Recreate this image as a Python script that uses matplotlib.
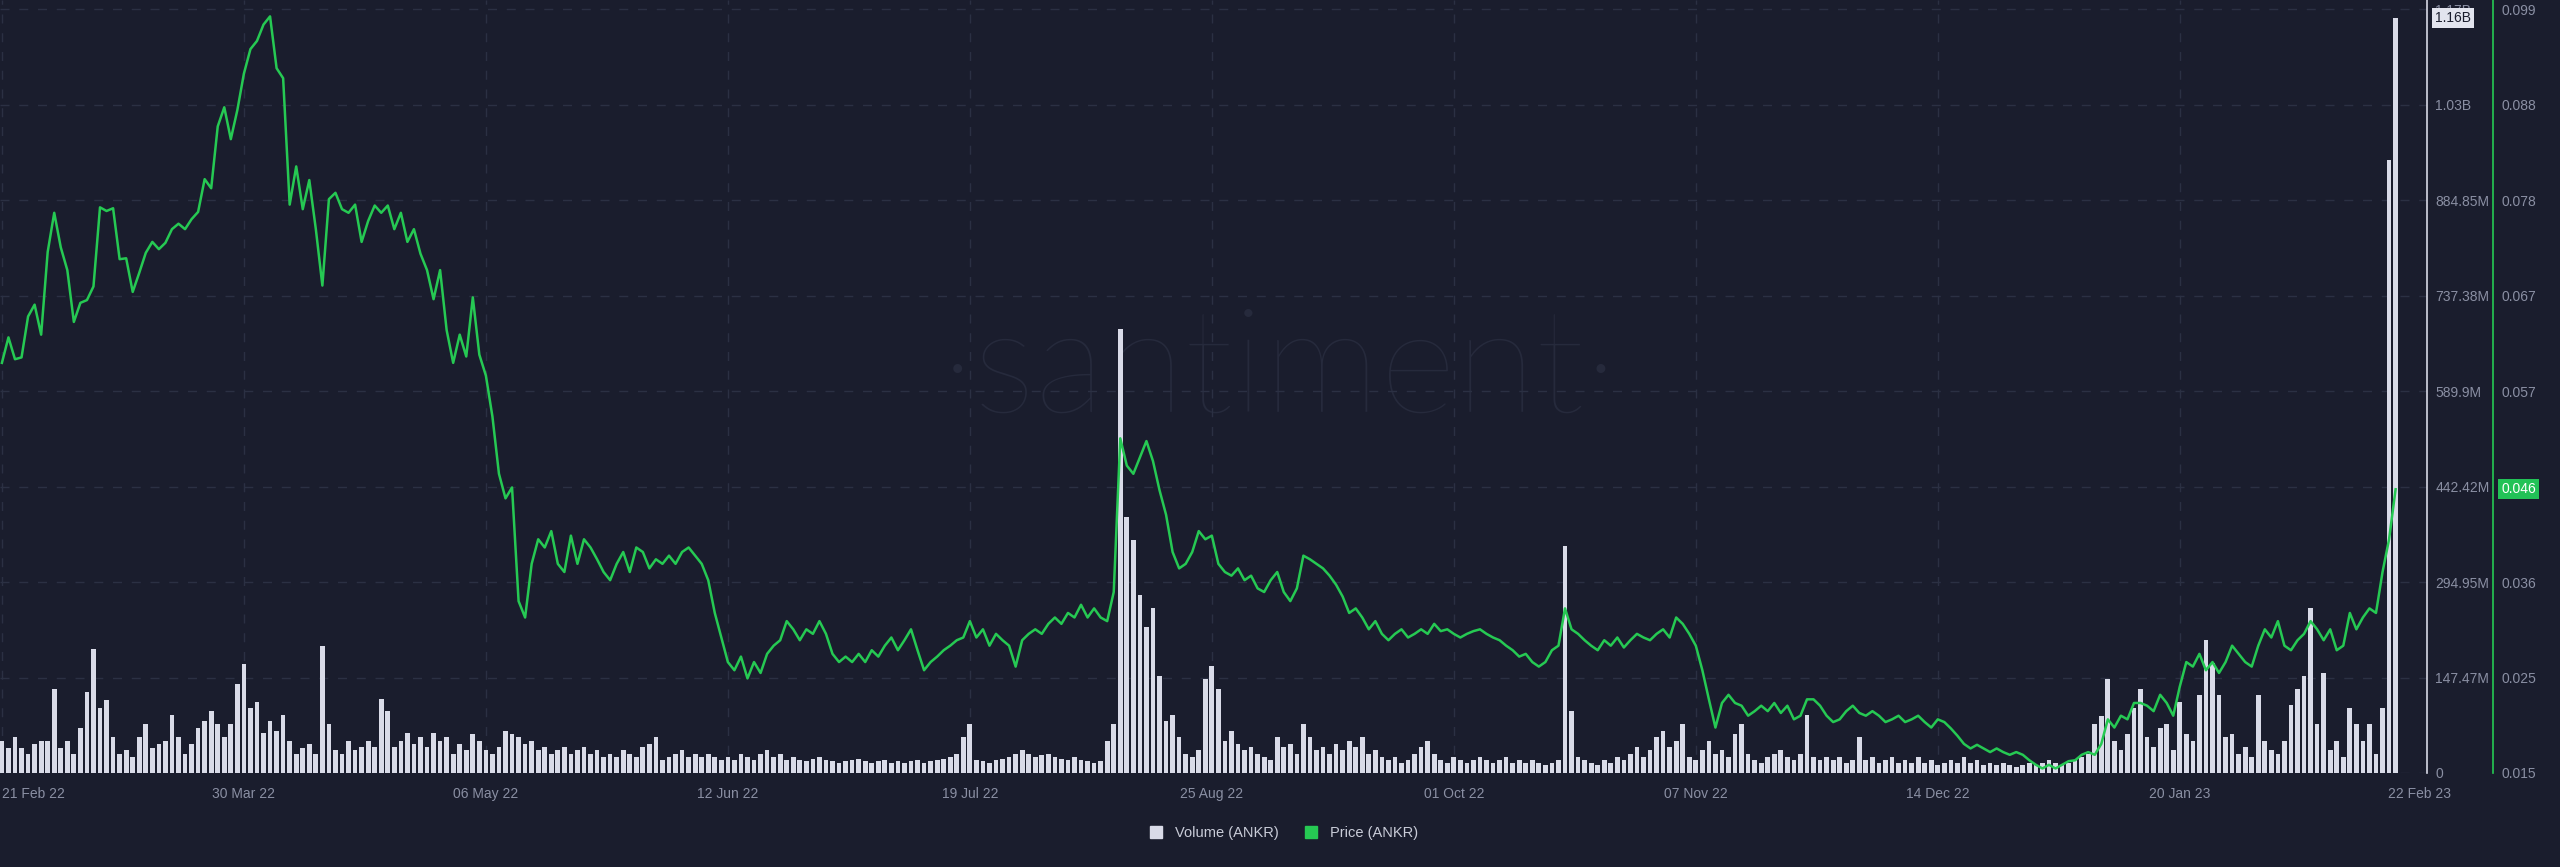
import numpy as np
import pandas as pd
import matplotlib
matplotlib.use("Agg")
from matplotlib import pyplot as plt
from matplotlib.lines import Line2D

# daily volume of ANKR, millions
volume = [50, 38, 55, 38, 30, 45, 50, 50, 130, 38,
          50, 30, 70, 125, 192, 100, 112, 55, 30, 35,
          25, 55, 75, 38, 45, 50, 90, 55, 30, 45,
          70, 80, 95, 75, 55, 75, 138, 168, 100, 110,
          62, 80, 65, 90, 50, 30, 38, 45, 30, 196,
          75, 35, 30, 50, 35, 40, 50, 40, 115, 95,
          40, 50, 62, 45, 55, 40, 62, 50, 55, 30,
          45, 35, 60, 50, 35, 30, 40, 65, 60, 55,
          45, 50, 35, 40, 30, 35, 40, 30, 35, 40,
          30, 35, 25, 30, 25, 35, 30, 25, 40, 45,
          55,
          20, 25, 30, 35, 25, 30, 25, 30, 25, 20,
          25, 20, 30, 25, 20, 30, 35, 25, 30, 20,
          25, 20, 18, 22, 25, 20, 18, 15, 18, 20,
          22, 18, 15, 18, 20, 15, 18, 16, 18, 20,
          15, 18, 20, 22, 25, 30,
          55, 75,
          20, 18, 15, 20, 22, 25, 30, 35, 30, 25,
          28, 30, 25, 22, 20, 25, 20, 18, 15, 18,
          50, 75, 686, 396, 360, 275, 225, 255, 150, 80,
          90, 55, 30, 25, 35, 145, 165, 130, 50, 65,
          45, 35, 40, 30, 25, 20, 55, 40, 45, 30,
          75, 55, 35, 40, 30, 45, 35, 50, 40, 55,
          30, 35, 25, 20, 25, 15, 20, 30, 40, 50,
          30, 20, 15, 25, 20, 15, 20, 25, 20, 15,
          20, 25, 15, 20, 15, 20, 15, 12, 15, 20,
          350, 95, 25, 20, 15, 12, 20, 15, 25, 20,
          30, 40, 25, 35, 55, 65, 40, 50, 75, 25,
          20, 35, 50, 30, 35, 25, 60, 75, 30, 20,
          15, 25, 30, 35, 25, 20, 30, 90, 25, 20,
          25, 20, 25, 15, 20, 55, 20, 25, 15, 20,
          25, 15, 20, 15, 25, 15, 20, 12, 15, 20,
          15, 25, 15, 20, 12, 15, 12, 15, 12, 10,
          12, 15, 12, 15, 20, 15, 12, 15, 20, 25,
          30,
          75, 88, 145, 50, 35, 60, 100, 130, 55, 40,
          70, 75, 35, 110, 60, 50, 120, 205, 170, 120,
          55, 60, 30, 40, 25, 120, 50, 35, 30, 50,
          105, 130, 150, 255, 75, 155, 35, 50, 25, 100,
          75, 50, 75, 30, 100, 946, 1166]

# daily price of ANKR, USD
price = [0.0601, 0.0629, 0.0605, 0.0607, 0.0652, 0.0665, 0.0632, 0.0723, 0.0766, 0.0728,
         0.0703, 0.0646, 0.0667, 0.0670, 0.0685, 0.0772, 0.0768, 0.0771, 0.0715, 0.0716,
         0.0679, 0.0700, 0.0722, 0.0734, 0.0726, 0.0733, 0.0748, 0.0754, 0.0748, 0.0759,
         0.0767, 0.0803, 0.0793, 0.0861, 0.0882, 0.0847, 0.0879,
         0.0919, 0.0946, 0.0955, 0.0973, 0.0982, 0.0925, 0.0914, 0.0775, 0.0817, 0.0770,
         0.0802, 0.0748, 0.0686, 0.0781, 0.0788, 0.0770, 0.0766, 0.0775, 0.0734, 0.0757,
         0.0774, 0.0766, 0.0774, 0.0748, 0.0766, 0.0734, 0.0748, 0.0721, 0.0703, 0.0671,
         0.0703, 0.0637, 0.0601, 0.0632, 0.0608, 0.0673, 0.0610, 0.0587, 0.0542, 0.0479,
         0.0452, 0.0464, 0.0339, 0.0321, 0.0380, 0.0407, 0.0398, 0.0416, 0.0380, 0.0371,
         0.0411, 0.0380, 0.0407, 0.0398, 0.0385, 0.0371, 0.0362, 0.0380, 0.0393, 0.0371,
         0.0398, 0.0393, 0.0375, 0.0385, 0.0380, 0.0389, 0.0380, 0.0393, 0.0398, 0.0389,
         0.0380, 0.0362, 0.0326, 0.0299, 0.0272, 0.0263, 0.0278, 0.0254, 0.0272, 0.0260,
         0.0281, 0.0290, 0.0296, 0.0317, 0.0308, 0.0296, 0.0308, 0.0303, 0.0317, 0.0303,
         0.0281, 0.0272, 0.0278, 0.0272, 0.0281, 0.0272, 0.0285, 0.0278, 0.0290, 0.0299,
         0.0285, 0.0296, 0.0308, 0.0285, 0.0263, 0.0272, 0.0278, 0.0285, 0.0290, 0.0296,
         0.0299, 0.0317, 0.0299, 0.0308, 0.0290, 0.0303, 0.0296, 0.0290, 0.0267, 0.0296,
         0.0303, 0.0308, 0.0303, 0.0314, 0.0321, 0.0314, 0.0326, 0.0321, 0.0335, 0.0321,
         0.0331, 0.0321, 0.0317, 0.0349, 0.0518, 0.0488, 0.0479, 0.0497, 0.0515, 0.0493,
         0.0461, 0.0434, 0.0393, 0.0375, 0.0380, 0.0393, 0.0416, 0.0407, 0.0411, 0.0380,
         0.0371, 0.0367, 0.0375, 0.0362, 0.0367, 0.0353, 0.0349, 0.0362, 0.0371, 0.0349,
         0.0339, 0.0353, 0.0389, 0.0385, 0.0380, 0.0375, 0.0367, 0.0357, 0.0344, 0.0326,
         0.0331, 0.0321, 0.0308, 0.0317, 0.0303, 0.0296, 0.0303, 0.0308, 0.0299, 0.0303,
         0.0308, 0.0303, 0.0314, 0.0306, 0.0308, 0.0303, 0.0299, 0.0303, 0.0306, 0.0308,
         0.0303, 0.0299, 0.0296, 0.0290, 0.0285, 0.0278, 0.0281, 0.0272, 0.0267, 0.0272,
         0.0285, 0.0290, 0.0331, 0.0308, 0.0303, 0.0296, 0.0290, 0.0285, 0.0296, 0.0290,
         0.0299, 0.0288, 0.0296, 0.0303, 0.0299, 0.0296, 0.0303, 0.0308, 0.0299, 0.0321,
         0.0314, 0.0303, 0.0290, 0.0263, 0.0231, 0.0200, 0.0227, 0.0236, 0.0227, 0.0224,
         0.0213, 0.0218, 0.0224, 0.0218, 0.0227, 0.0216, 0.0224, 0.0209, 0.0213, 0.0231,
         0.0231, 0.0224, 0.0213, 0.0206, 0.0209, 0.0218, 0.0224, 0.0216, 0.0213, 0.0218,
         0.0213, 0.0206, 0.0209, 0.0213, 0.0206, 0.0209, 0.0213, 0.0206, 0.0200, 0.0209,
         0.0206, 0.0199, 0.0191, 0.0182, 0.0177, 0.0181, 0.0177, 0.0173, 0.0177, 0.0173,
         0.0170, 0.0173, 0.0170, 0.0164, 0.0159, 0.0155, 0.0159, 0.0155, 0.0159, 0.0163,
         0.0164, 0.0170, 0.0173, 0.0170, 0.0182, 0.0209, 0.0200, 0.0213, 0.0209, 0.0227,
         0.0227, 0.0224, 0.0218, 0.0236, 0.0227, 0.0213, 0.0245, 0.0272, 0.0267, 0.0281,
         0.0263, 0.0272, 0.0260, 0.0272, 0.0290, 0.0281, 0.0272, 0.0267, 0.0290, 0.0308,
         0.0299, 0.0317, 0.0290, 0.0285, 0.0296, 0.0303, 0.0317, 0.0308, 0.0296, 0.0308,
         0.0285, 0.0290, 0.0326, 0.0308, 0.0321, 0.0331, 0.0326, 0.0371, 0.0407, 0.0462]

dates = pd.date_range("2022-02-21", periods=len(volume), freq="D")
price_dates = pd.date_range("2022-02-21", periods=len(price), freq="D")

tick_dates = ["2022-02-21", "2022-03-30", "2022-05-06", "2022-06-12", "2022-07-19",
              "2022-08-25", "2022-10-01", "2022-11-07", "2022-12-14", "2023-01-20"]
tick_names = ["21 Feb 22", "30 Mar 22", "06 May 22", "12 Jun 22", "19 Jul 22",
              "25 Aug 22", "01 Oct 22", "07 Nov 22", "14 Dec 22", "20 Jan 23"]
vol_ticks = [0, 147.475, 294.95, 442.425, 589.9, 737.375, 884.85, 1032.325, 1179.8]
vol_labels = ["0", "147.47M", "294.95M", "442.42M", "589.9M", "737.38M", "884.85M", "1.03B", "1.17B"]
price_ticks = [0.015, 0.0255, 0.036, 0.0465, 0.057, 0.0675, 0.078, 0.0885, 0.099]
price_labels = ["0.015", "0.025", "0.036", "0.046", "0.057", "0.067", "0.078", "0.088", "0.099"]

bg = "#1a1d2d"
grid_col = "#2b3043"
txt_col = "#8a8fa3"
bar_col = "#d9dbe8"
green = "#26c953"

plt.rcParams["font.family"] = ["Liberation Sans", "DejaVu Sans"]

fig = plt.figure(figsize=(25.6, 8.67), dpi=100, facecolor=bg)
ax = fig.add_axes([0, 94 / 867, 2427 / 2560, 773 / 867])
ax.set_facecolor(bg)

ax.text(0.5, 1 - 372 / 867, "\u00b7santiment\u00b7", transform=fig.transFigure,
        ha="center", va="center", fontsize=106, color="#262a3c",
        family=["Lato", "DejaVu Sans"], fontweight="light", zorder=0)

ax.bar(dates, volume, width=0.72, color=bar_col, zorder=2)
ax.set_ylim(0, 1193.7)
start = dates[0]
ax.set_xlim(start - pd.Timedelta(hours=7), start + pd.Timedelta(days=370.8))

ax2 = ax.twinx()
ax2.plot(price_dates, price, color=green, lw=1.8, zorder=3)
ax2.set_ylim(0.015, 0.1000)

# axes styling
for s in ["left", "top", "bottom"]:
    ax.spines[s].set_visible(False)
    ax2.spines[s].set_visible(False)
ax.spines["right"].set_color("#d7d9e5")
ax.spines["right"].set_linewidth(1.2)
ax2.spines["right"].set_position(("axes", 2493 / 2427))
ax2.spines["right"].set_color(green)
ax2.spines["right"].set_linewidth(1.2)

ax.yaxis.tick_right()
ax.set_yticks(vol_ticks)
ax.set_yticklabels(vol_labels)
ax.tick_params(axis="y", length=0, pad=6, labelsize=10, labelcolor=txt_col)
ax2.set_yticks(price_ticks)
ax2.set_yticklabels(price_labels)
ax2.tick_params(axis="y", length=0, pad=6, labelsize=10, labelcolor=txt_col)

ax.set_xticks(pd.to_datetime(tick_dates))
ax.set_xticklabels(tick_names)
ax.tick_params(axis="x", length=0, pad=10, labelsize=10, labelcolor=txt_col)
ax.get_xticklabels()[0].set_horizontalalignment("left")
ax.annotate("22 Feb 23", xy=(dates[-1], 0), xycoords=("data", "axes fraction"),
            xytext=(17, -10), textcoords="offset points", ha="center", va="top",
            fontsize=10, color=txt_col, annotation_clip=False)

ax.grid(True, color=grid_col, lw=1.0, linestyle=(0, (6.5, 7)), zorder=1)
ax.set_axisbelow(True)

# last-value boxes
last_vol = "%.2fB" % (int(volume[-1] / 10) / 100)
ax.annotate(last_vol, xy=(1, volume[-1]), xycoords=ax.get_yaxis_transform(),
            xytext=(6, 0), textcoords="offset points", ha="left", va="center",
            fontsize=10, color="#1a1d2d",
            bbox=dict(boxstyle="square,pad=0.22", fc="#e2e4ee", ec="none"),
            annotation_clip=False, zorder=10)
ax2.annotate("%.3f" % price[-1], xy=(2493 / 2427, price[-1]),
             xycoords=ax2.get_yaxis_transform(),
             xytext=(6, 0), textcoords="offset points", ha="left", va="center",
             fontsize=10, color="white",
             bbox=dict(boxstyle="square,pad=0.22", fc="#22c257", ec="none"),
             annotation_clip=False, zorder=10)

handles = [Line2D([], [], marker="s", ls="", color=bar_col, markersize=8),
           Line2D([], [], marker="s", ls="", color=green, markersize=8)]
fig.legend(handles, ["Volume (ANKR)", "Price (ANKR)"], loc="center",
           bbox_to_anchor=(0.5, 1 - 833 / 867), ncol=2, frameon=False,
           fontsize=10.5, labelcolor="#c9ccd8", handletextpad=0.3, columnspacing=1.2)

fig.savefig("out.png", dpi=100, facecolor=bg)
